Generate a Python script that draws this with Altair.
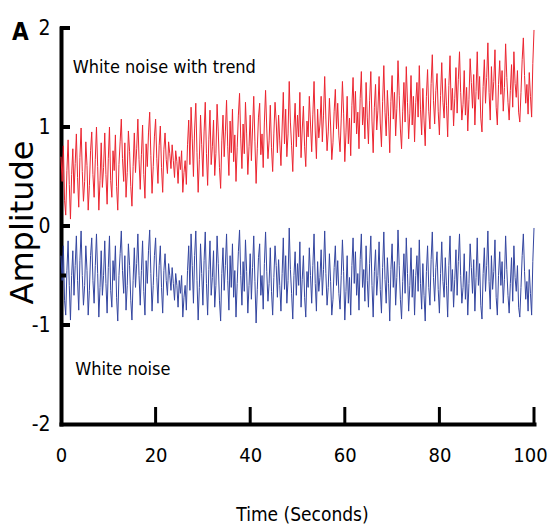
import altair as alt
import pandas as pd

time_step = 0.25

white_noise = [
    -0.30,-0.55,-0.20,-0.75,-0.90,-0.45,-0.15,-0.60,-0.95,-0.50,-0.25,-0.70,-0.40,-0.10,-0.55,-0.85,-0.35,-0.05,-0.50,-0.80,
    -0.60,-0.20,-0.45,-0.90,-0.65,-0.30,-0.12,-0.55,-0.78,-0.40,-0.08,-0.48,-0.92,-0.62,-0.25,-0.70,-0.50,-0.15,-0.58,-0.88,
    -0.42,-0.10,-0.65,-0.82,-0.35,-0.55,-0.20,-0.72,-0.96,-0.50,-0.28,-0.05,-0.45,-0.68,-0.30,-0.85,-0.60,-0.18,-0.40,-0.75,
    -0.95,-0.55,-0.22,-0.62,-0.38,-0.08,-0.50,-0.80,-0.45,-0.15,-0.66,-0.90,-0.35,-0.58,-0.25,-0.04,-0.48,-0.86,-0.60,-0.30,
    -0.12,-0.52,-0.78,-0.40,-0.20,-0.62,-0.88,-0.45,-0.28,-0.55,-0.70,-0.38,-0.50,-0.65,-0.42,-0.58,-0.75,-0.48,-0.60,-0.82,
    -0.55,-0.68,-0.50,-0.92,-0.72,-0.60,-0.85,-0.45,-0.20,-0.65,-0.08,-0.40,-0.78,-0.30,-0.05,-0.55,-0.95,-0.62,-0.18,-0.48,
    -0.80,-0.35,-0.06,-0.58,-0.90,-0.44,-0.15,-0.70,-0.52,-0.25,-0.82,-0.60,-0.10,-0.38,-0.75,-0.96,-0.48,-0.22,-0.65,-0.40,
    -0.08,-0.55,-0.85,-0.30,-0.62,-0.18,-0.72,-0.45,-0.92,-0.58,-0.26,-0.04,-0.50,-0.80,-0.36,-0.66,-0.14,-0.46,-0.88,-0.60,
    -0.28,-0.74,-0.42,-0.10,-0.56,-0.98,-0.64,-0.32,-0.18,-0.70,-0.50,-0.84,-0.38,-0.06,-0.46,-0.76,-0.58,-0.22,-0.66,-0.90,
    -0.52,-0.20,-0.40,-0.72,-0.34,-0.60,-0.86,-0.48,-0.12,-0.64,-0.30,-0.78,-0.55,-0.02,-0.44,-0.68,-0.94,-0.50,-0.26,-0.70,
    -0.38,-0.60,-0.16,-0.82,-0.54,-0.30,-0.72,-0.92,-0.46,-0.62,-0.22,-0.50,-0.78,-0.40,-0.08,-0.58,-0.86,-0.36,-0.66,-0.52,
    -0.24,-0.70,-0.44,-0.05,-0.48,-0.80,-0.62,-0.28,-0.56,-0.90,-0.74,-0.42,-0.20,-0.60,-0.35,-0.68,-0.84,-0.50,-0.14,-0.46,
    -0.95,-0.66,-0.30,-0.78,-0.52,-0.90,-0.40,-0.12,-0.58,-0.26,-0.70,-0.48,-0.85,-0.34,-0.08,-0.62,-0.44,-0.76,-0.20,-0.55,
    -0.82,-0.38,-0.10,-0.60,-0.92,-0.46,-0.24,-0.70,-0.50,-0.16,-0.64,-0.88,-0.42,-0.06,-0.54,-0.78,-0.32,-0.58,-0.96,-0.44,
    -0.18,-0.62,-0.36,-0.80,-0.52,-0.04,-0.40,-0.74,-0.94,-0.56,-0.28,-0.68,-0.12,-0.48,-0.86,-0.60,-0.22,-0.72,-0.44,-0.90,
    -0.50,-0.30,-0.66,-0.14,-0.58,-0.84,-0.38,-0.70,-0.96,-0.46,-0.20,-0.62,-0.80,-0.34,-0.06,-0.52,-0.76,-0.42,-0.26,-0.64,
    -0.88,-0.48,-0.16,-0.56,-0.72,-0.32,-0.60,-0.92,-0.40,-0.10,-0.66,-0.44,-0.82,-0.54,-0.24,-0.70,-0.36,-0.08,-0.50,-0.78,
    -0.62,-0.28,-0.74,-0.46,-0.90,-0.58,-0.18,-0.42,-0.68,-0.34,-0.86,-0.52,-0.12,-0.60,-0.38,-0.80,-0.94,-0.48,-0.22,-0.66,
    -0.40,-0.05,-0.56,-0.84,-0.30,-0.64,-0.46,-0.14,-0.72,-0.90,-0.50,-0.26,-0.60,-0.36,-0.78,-0.54,-0.10,-0.44,-0.70,-0.88,
    -0.58,-0.32,-0.76,-0.20,-0.52,-0.66,-0.40,-0.82,-0.92,-0.62,-0.30,-0.08,-0.46,-0.74,-0.56,-0.86,-0.44,-0.68,-0.90,-0.36,
    -0.02,
]

noise_with_trend = [
    0.70,0.45,0.81,0.26,0.11,0.56,0.87,0.42,0.07,0.52,0.78,0.33,0.63,0.93,0.49,0.19,0.69,0.99,0.55,0.25,
    0.45,0.85,0.61,0.16,0.41,0.76,0.95,0.52,0.29,0.67,1.00,0.60,0.16,0.46,0.84,0.39,0.59,0.94,0.52,0.22,
    0.68,1.00,0.46,0.29,0.76,0.56,0.92,0.40,0.16,0.62,0.85,1.08,0.68,0.45,0.84,0.29,0.54,0.96,0.75,0.40,
    0.20,0.60,0.94,0.54,0.78,1.08,0.67,0.37,0.72,1.02,0.52,0.28,0.83,0.60,0.94,1.15,0.71,0.33,0.60,0.90,
    1.08,0.68,0.43,0.81,1.01,0.59,0.34,0.77,0.94,0.67,0.53,0.85,0.73,0.58,0.82,0.66,0.49,0.76,0.65,0.43,
    0.70,0.57,0.76,0.34,0.54,0.66,0.42,0.82,1.07,0.62,1.20,0.88,0.50,0.98,1.24,0.74,0.34,0.67,1.12,0.82,
    0.50,0.95,1.25,0.73,0.41,0.87,1.17,0.62,0.80,1.07,0.51,0.73,1.23,0.95,0.59,0.38,0.86,1.12,0.70,0.95,
    1.27,0.80,0.51,1.06,0.74,1.18,0.65,0.92,0.45,0.79,1.12,1.34,0.88,0.58,1.03,0.73,1.25,0.93,0.52,0.80,
    1.12,0.66,0.99,1.31,0.85,0.43,0.78,1.10,1.24,0.72,0.93,0.59,1.05,1.37,0.98,0.68,0.86,1.22,0.79,0.55,
    0.93,1.25,1.06,0.74,1.12,0.86,0.61,0.99,1.35,0.83,1.18,0.70,0.93,1.46,1.05,0.81,0.55,0.99,1.24,0.80,
    1.12,0.90,1.35,0.69,0.97,1.21,0.80,0.60,1.06,0.90,1.31,1.03,0.75,1.13,1.46,0.96,0.68,1.18,0.89,1.03,
    1.31,0.85,1.12,1.51,1.08,0.76,0.95,1.29,1.01,0.67,0.84,1.16,1.38,0.98,1.24,0.91,0.75,1.09,1.46,1.14,
    0.65,0.94,1.31,0.83,1.09,0.71,1.22,1.50,1.04,1.36,0.93,1.15,0.78,1.29,1.56,1.02,1.20,0.88,1.45,1.10,
    0.83,1.27,1.56,1.06,0.74,1.20,1.43,0.97,1.17,1.51,1.04,0.80,1.26,1.62,1.15,0.91,1.37,1.11,0.74,1.26,
    1.52,1.08,1.35,0.91,1.19,1.67,1.32,0.98,0.78,1.16,1.45,1.05,1.61,1.25,0.88,1.14,1.52,1.02,1.31,0.85,
    1.25,1.45,1.10,1.62,1.18,0.92,1.39,1.07,0.81,1.31,1.58,1.16,0.98,1.44,1.73,1.27,1.03,1.37,1.54,1.16,
    0.92,1.32,1.65,1.25,1.09,1.49,1.22,0.90,1.42,1.72,1.17,1.39,1.01,1.29,1.60,1.14,1.48,1.76,1.35,1.07,
    1.23,1.57,1.12,1.40,0.96,1.28,1.69,1.45,1.19,1.53,1.02,1.36,1.76,1.28,1.51,1.09,0.95,1.41,1.68,1.24,
    1.50,1.85,1.35,1.07,1.61,1.27,1.46,1.78,1.20,1.02,1.43,1.67,1.33,1.57,1.16,1.40,1.84,1.50,1.25,1.07,
    1.37,1.63,1.20,1.76,1.44,1.30,1.57,1.15,1.05,1.35,1.68,1.90,1.52,1.24,1.43,1.13,1.55,1.31,1.10,1.64,
    1.98,
]

series_names = ["White noise", "White noise with trend"]
series_colors = ["#3446a0", "#ec2530"]
x_tick_labels = [0, 20, 40, 60, 80, 100]
y_tick_labels = [-2, -1, 0, 1, 2]
inner_x_ticks = [20, 40, 60, 80, 100]
inner_y_ticks = [2, 1, 0, -1]
minor_y_ticks = [-0.5]

# annotation texts and their anchor points (data units)
label_texts = ["White noise with trend", "White noise"]
label_x = [2.5, 3.0]
label_y = [1.545, -1.505]

NARROW = "DejaVu Sans Condensed, Liberation Sans Narrow, sans-serif"
WIDE = "DejaVu Sans, sans-serif"

W, H = 473, 396

n = len(white_noise)
times = [i * time_step for i in range(n)]
lines_df = pd.DataFrame({
    "t": times + times,
    "v": white_noise + noise_with_trend,
    "s": [series_names[0]] * n + [series_names[1]] * n,
})

x_scale = alt.Scale(domain=[0, 100], nice=False, zero=False)
y_scale = alt.Scale(domain=[-2, 2], nice=False, zero=False)

x_axis = alt.Axis(
    values=x_tick_labels, ticks=False, grid=False,
    domainColor="black", domainWidth=4, domainCap="square",
    labelFont=NARROW, labelFontSize=20, labelColor="black", labelPadding=21,
    labelFlush=False,
    labelOffset={"condition": {"test": "datum.value == 100", "value": -4}, "value": 0},
    title="Time (Seconds)", titleFont=NARROW, titleFontSize=19,
    titleFontWeight="normal", titleColor="black",
    titleBaseline="alphabetic", titleX=241, titleY=96,
)
y_axis = alt.Axis(
    values=y_tick_labels, ticks=False, grid=False,
    domainColor="black", domainWidth=4, domainCap="square",
    labelFont=NARROW, labelFontSize=21, labelColor="black", labelPadding=11,
    labelFlush=False, labelExpr="'' + datum.value",
    title="Amplitude", titleFont=WIDE, titleFontSize=32,
    titleFontWeight="normal", titleColor="black",
    titleAngle=270, titleAlign="center", titleBaseline="alphabetic",
    titleX=-29, titleY=194,
)

X = alt.X("t:Q", scale=x_scale, axis=x_axis)
Y = alt.Y("v:Q", scale=y_scale, axis=y_axis)

lines = alt.Chart(lines_df).mark_line(strokeWidth=1).encode(
    x=X, y=Y,
    color=alt.Color("s:N", scale=alt.Scale(domain=series_names, range=series_colors), legend=None),
)

xticks = alt.Chart(pd.DataFrame({"t": inner_x_ticks})).mark_tick(
    orient="vertical", size=17, thickness=3, color="black", opacity=1
).encode(x=X, y=alt.value(H - 8.5))

yticks = alt.Chart(pd.DataFrame({"v": inner_y_ticks})).mark_tick(
    orient="horizontal", size=10, thickness=4, color="black", opacity=1
).encode(y=Y, x=alt.value(4))

yminor = alt.Chart(pd.DataFrame({"v": minor_y_ticks})).mark_tick(
    orient="horizontal", size=6, thickness=4, color="black", opacity=1
).encode(y=Y, x=alt.value(2))

labels = alt.Chart(pd.DataFrame({"t": label_x, "v": label_y, "txt": label_texts})).mark_text(
    align="left", baseline="alphabetic", font=NARROW, fontSize=18, color="black"
).encode(x=X, y=Y, text="txt:N")

panel = alt.Chart(pd.DataFrame({"txt": ["A"]})).mark_text(
    align="left", baseline="alphabetic", font=NARROW, fontSize=24,
    fontWeight="bold", color="black"
).encode(x=alt.value(-49), y=alt.value(12), text="txt:N")

chart = alt.layer(lines, xticks, yticks, yminor, labels, panel).properties(
    width=W, height=H,
    autosize=alt.AutoSizeParams(type="none"),
    padding={"left": 61, "top": 28, "right": 15, "bottom": 105},
    background="white",
).configure_view(stroke=None)

chart.save("out.html", embed_options={"renderer": "svg", "actions": False})
